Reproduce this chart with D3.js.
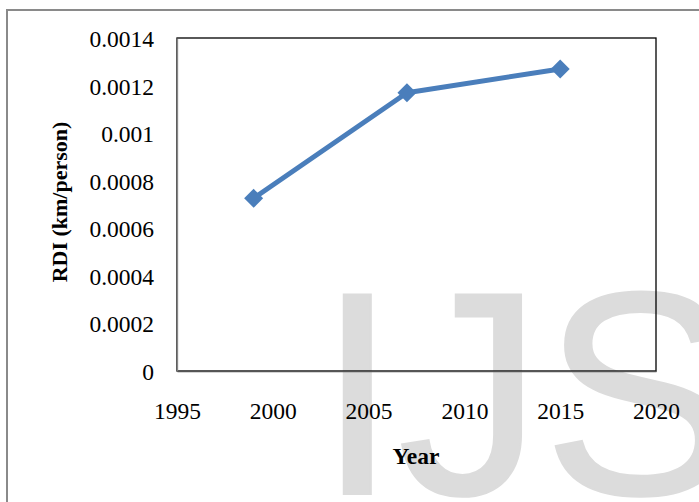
<!DOCTYPE html>
<html>
<head>
<meta charset="utf-8">
<script src="https://cdn.jsdelivr.net/npm/d3@7"></script>
<style>
  html, body { margin: 0; padding: 0; background: #fff; }
  svg { display: block; }
  .serif { font-family: "Liberation Serif", "Times New Roman", Times, serif; }
</style>
</head>
<body>
<svg id="chart" width="699" height="502"></svg>
<script>
// Road density index per year
const years = [1999, 2007, 2015];
const rdiValues = [0.000726, 0.00117, 0.00127];

// Axis ticks and their labels
const xTicks = [1995, 2000, 2005, 2010, 2015, 2020];
const yTicks = [0, 0.0002, 0.0004, 0.0006, 0.0008, 0.001, 0.0012, 0.0014];
const yTickLabels = ["0", "0.0002", "0.0004", "0.0006", "0.0008", "0.001", "0.0012", "0.0014"];

const xTitle = "Year";
const yTitle = "RDI (km/person)";
const watermark = "IJS";

const svg = d3.select("#chart");
const W = 699, H = 502;
const plot = { left: 177, top: 38, right: 656, bottom: 371 };

const x = d3.scaleLinear().domain([1995, 2020]).range([plot.left, plot.right]);
const y = d3.scaleLinear().domain([0, 0.0014]).range([plot.bottom, plot.top]);

const blue = "#4a7ebb";

// Background watermark lettering
svg.append("text")
  .attr("x", 317)
  .attr("y", 494)
  .style("font-family", "'Liberation Sans', Arial, Helvetica, sans-serif")
  .attr("font-size", 290)
  .attr("fill", "#dcdcdc")
  .attr("stroke", "#dcdcdc")
  .attr("stroke-width", 2)
  .text(watermark);

// Outer chart frame (runs off the right and bottom edges)
svg.append("rect")
  .attr("x", 7).attr("y", 10)
  .attr("width", W + 20).attr("height", H + 20)
  .attr("fill", "none")
  .attr("stroke", "#8a8a8a")
  .attr("stroke-width", 2);

// Plot area border
svg.append("rect")
  .attr("x", plot.left).attr("y", plot.top)
  .attr("width", plot.right - plot.left)
  .attr("height", plot.bottom - plot.top)
  .attr("fill", "none")
  .attr("stroke", "#000")
  .attr("stroke-width", 1.3);

// Y axis
const yAxis = d3.axisLeft(y)
  .tickValues(yTicks)
  .tickFormat((d, i) => yTickLabels[i])
  .tickSize(0)
  .tickPadding(23);
const gy = svg.append("g").attr("transform", `translate(${plot.left},0)`).call(yAxis);
gy.attr("font-family", null);
gy.select(".domain").attr("stroke", "#868686").attr("stroke-width", 1.3);
gy.selectAll("text")
  .attr("class", "serif")
  .attr("font-size", 23.5)
  .attr("fill", "#000")
  .attr("dy", "0.36em");

// X axis
const xAxis = d3.axisBottom(x)
  .tickValues(xTicks)
  .tickFormat(d3.format("d"))
  .tickSize(0)
  .tickPadding(31);
const gx = svg.append("g").attr("transform", `translate(0,${plot.bottom})`).call(xAxis);
gx.attr("font-family", null);
gx.select(".domain").attr("stroke", "#555").attr("stroke-width", 1.3);
gx.selectAll("text")
  .attr("class", "serif")
  .attr("font-size", 23.5)
  .attr("fill", "#000");

// Axis titles
svg.append("text")
  .attr("class", "serif")
  .attr("x", 416).attr("y", 464)
  .attr("text-anchor", "middle")
  .attr("font-weight", "bold")
  .attr("font-size", 23.5)
  .attr("fill", "#000")
  .text(xTitle);

svg.append("text")
  .attr("class", "serif")
  .attr("transform", "translate(67,202) rotate(-90)")
  .attr("text-anchor", "middle")
  .attr("font-weight", "bold")
  .attr("font-size", 22)
  .attr("fill", "#000")
  .text(yTitle);

// Series line
const data = years.map((yr, i) => ({ year: yr, value: rdiValues[i] }));
svg.append("path")
  .datum(data)
  .attr("fill", "none")
  .attr("stroke", blue)
  .attr("stroke-width", 5)
  .attr("stroke-linejoin", "round")
  .attr("d", d3.line().x(d => x(d.year)).y(d => y(d.value)));

// Diamond markers
svg.selectAll(".marker")
  .data(data)
  .join("path")
  .attr("class", "marker")
  .attr("fill", blue)
  .attr("d", d3.symbol(d3.symbolSquare, 180))
  .attr("transform", d => `translate(${x(d.year)},${y(d.value)}) rotate(45)`);
</script>
</body>
</html>
